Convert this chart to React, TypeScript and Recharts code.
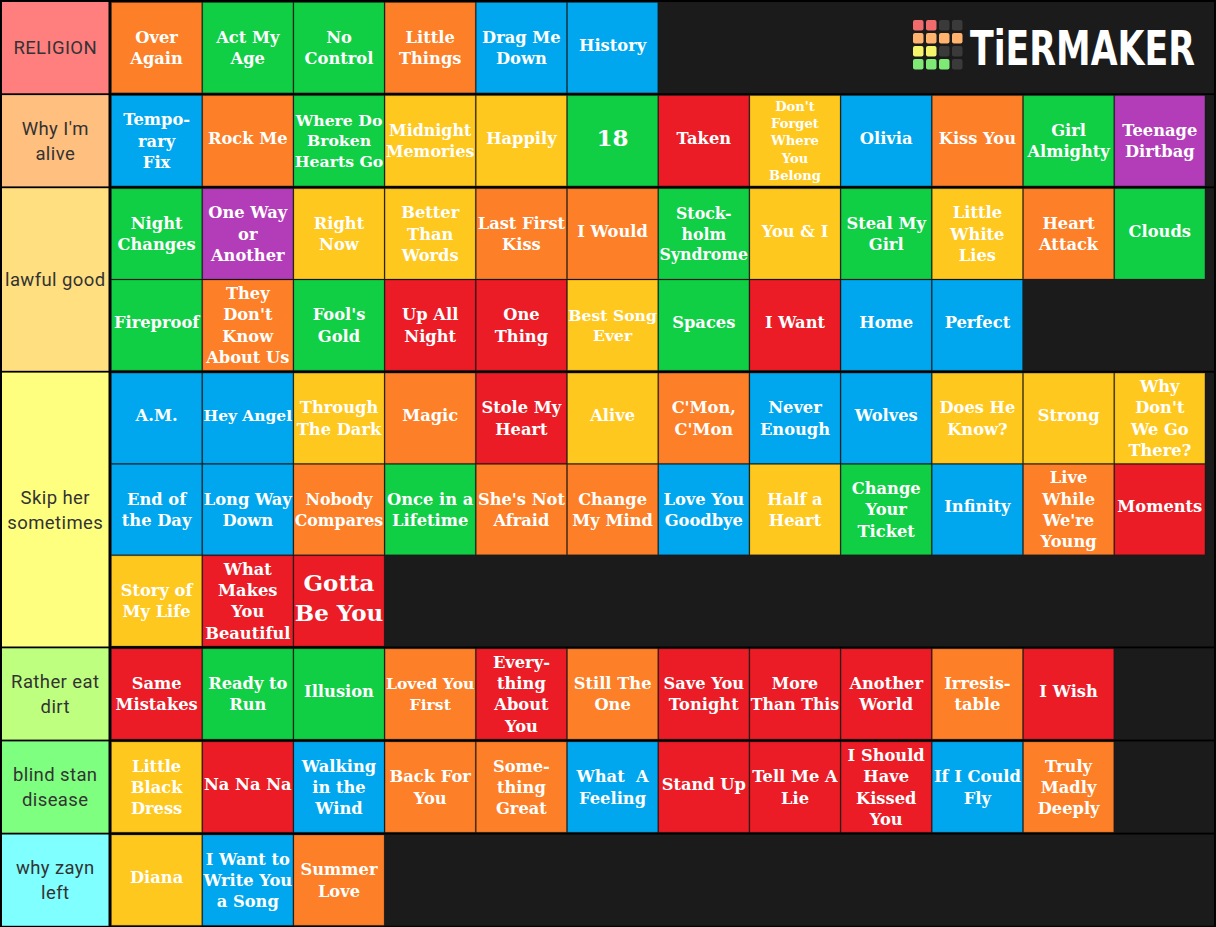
import { ScatterChart, Scatter, XAxis, YAxis } from 'recharts'

const W = 1216
const H = 927
const PX = 91.2 // cell pitch, horizontal
const PY = 91.3 // cell pitch, vertical
const GAP = 1.8 // black line between tiers
const LEFT = 111
const TOP = 2
const PER_ROW = 12
const X0 = -(LEFT + PX / 2) / PX
const X1 = (W - LEFT - PX / 2) / PX
const Y0 = -(TOP + PY / 2) / PY
const Y1 = (H - TOP - PY / 2) / PY

const PALETTE: Record<string, string> = {
  o: '#fd7f27',
  g: '#10cf45',
  b: '#00a7ee',
  y: '#ffc81e',
  r: '#eb1c26',
  p: '#b33db8',
}

const tierNames = ['RELIGION', "Why I'm\nalive", 'lawful good', 'Skip her\nsometimes', 'Rather eat\ndirt', 'blind stan\ndisease', 'why zayn\nleft']
const tierColors = ['#ff7f7f', '#ffbf7f', '#ffdf7f', '#ffff7f', '#bfff7f', '#7fff7f', '#7fffff']

const religion = [
  ['Over\nAgain', 'o'], ['Act My\nAge', 'g'], ['No\nControl', 'g'], ['Little\nThings', 'o'], ['Drag Me\nDown', 'b'], ['History', 'b'],
]
const whyAlive = [
  ['Tempo-\nrary\nFix', 'b'], ['Rock Me', 'o'], ['Where Do\nBroken\nHearts Go', 'g'], ['Midnight\nMemories', 'y'], ['Happily', 'y'], ['18', 'g'],
  ['Taken', 'r'], ["Don't\nForget\nWhere\nYou\nBelong", 'y'], ['Olivia', 'b'], ['Kiss You', 'o'], ['Girl\nAlmighty', 'g'], ['Teenage\nDirtbag', 'p'],
]
const lawfulGood = [
  ['Night\nChanges', 'g'], ['One Way\nor\nAnother', 'p'], ['Right\nNow', 'y'], ['Better\nThan\nWords', 'y'], ['Last First\nKiss', 'o'], ['I Would', 'o'],
  ['Stock-\nholm\nSyndrome', 'g'], ['You & I', 'y'], ['Steal My\nGirl', 'g'], ['Little\nWhite\nLies', 'y'], ['Heart\nAttack', 'o'], ['Clouds', 'g'],
  ['Fireproof', 'g'], ["They\nDon't\nKnow\nAbout Us", 'o'], ["Fool's\nGold", 'g'], ['Up All\nNight', 'r'], ['One\nThing', 'r'], ['Best Song\nEver', 'y'],
  ['Spaces', 'g'], ['I Want', 'r'], ['Home', 'b'], ['Perfect', 'b'],
]
const skipHer = [
  ['A.M.', 'b'], ['Hey Angel', 'b'], ['Through\nThe Dark', 'y'], ['Magic', 'o'], ['Stole My\nHeart', 'r'], ['Alive', 'y'],
  ["C'Mon,\nC'Mon", 'o'], ['Never\nEnough', 'b'], ['Wolves', 'b'], ['Does He\nKnow?', 'y'], ['Strong', 'y'], ["Why\nDon't\nWe Go\nThere?", 'y'],
  ['End of\nthe Day', 'b'], ['Long Way\nDown', 'b'], ['Nobody\nCompares', 'o'], ['Once in a\nLifetime', 'g'], ["She's Not\nAfraid", 'o'], ['Change\nMy Mind', 'o'],
  ['Love You\nGoodbye', 'b'], ['Half a\nHeart', 'y'], ['Change\nYour\nTicket', 'g'], ['Infinity', 'b'], ["Live\nWhile\nWe're\nYoung", 'o'], ['Moments', 'r'],
  ['Story of\nMy Life', 'y'], ['What\nMakes\nYou\nBeautiful', 'r'], ['Gotta\nBe You', 'r'],
]
const ratherEatDirt = [
  ['Same\nMistakes', 'r'], ['Ready to\nRun', 'g'], ['Illusion', 'g'], ['Loved You\nFirst', 'o'], ['Every-\nthing\nAbout\nYou', 'r'], ['Still The\nOne', 'o'],
  ['Save You\nTonight', 'r'], ['More\nThan This', 'r'], ['Another\nWorld', 'r'], ['Irresis-\ntable', 'o'], ['I Wish', 'r'],
]
const blindStan = [
  ['Little\nBlack\nDress', 'y'], ['Na Na Na', 'r'], ['Walking\nin the\nWind', 'b'], ['Back For\nYou', 'o'], ['Some-\nthing\nGreat', 'o'], ['What  A\nFeeling', 'b'],
  ['Stand Up', 'r'], ['Tell Me A\nLie', 'r'], ['I Should\nHave\nKissed\nYou', 'r'], ['If I Could\nFly', 'b'], ['Truly\nMadly\nDeeply', 'o'],
]
const whyZayn = [
  ['Diana', 'y'], ['I Want to\nWrite You\na Song', 'b'], ['Summer\nLove', 'o'],
]

const tiers = [religion, whyAlive, lawfulGood, skipHer, ratherEatDirt, blindStan, whyZayn]

// items drawn with a larger type than the rest
const BIG = new Set(['18', 'Gotta\nBe You'])

const tierData: any[] = []
const itemData: any[] = []
let row = 0
tiers.forEach((items, t) => {
  const rows = Math.max(1, Math.ceil(items.length / PER_ROW))
  const off = (t * GAP) / PY
  tierData.push({ x: 0, y: row + (rows - 1) / 2 + off, rows, name: tierNames[t], color: tierColors[t] })
  items.forEach(([label, c], i) => {
    itemData.push({ x: i % PER_ROW, y: row + Math.floor(i / PER_ROW) + off, label, color: PALETTE[c] })
  })
  row += rows
})

const ITEM_FONT = '"DejaVu Serif", serif'
let ctx: CanvasRenderingContext2D | null = null
function measure(text: string, size: number) {
  if (!ctx) ctx = document.createElement('canvas').getContext('2d')
  if (!ctx) return text.length * size * 0.62
  ctx.font = `bold ${size}px ${ITEM_FONT}`
  return ctx.measureText(text).width
}

function TierShape(props: any) {
  const { cy, payload } = props
  const h = payload.rows * PY
  const top = cy - h / 2
  const lines = payload.name.split('\n')
  const mid = (2 + LEFT - 2.5) / 2
  return (
    <g>
      <rect x={LEFT} y={top} width={W - 2 - LEFT} height={h} fill="#1b1b1b" />
      <rect x={2} y={top} width={LEFT - 4.5} height={h} fill={payload.color} />
      <text textAnchor="middle" fontFamily="Roboto, sans-serif" fontSize={18.5} letterSpacing={0.4} fill="#333">
        {lines.map((l: string, i: number) => (
          <tspan key={i} x={mid} y={cy + (i - (lines.length - 1) / 2) * 25 + 6.5}>{l}</tspan>
        ))}
      </text>
    </g>
  )
}

function ItemShape(props: any) {
  const { cx, cy, payload } = props
  const lines: string[] = payload.label.split('\n')
  const big = BIG.has(payload.label)
  let fs = big ? 23 : 16.3
  const widest = Math.max(...lines.map((l) => measure(l, fs)))
  if (widest > 88.5) fs *= 88.5 / widest
  fs = Math.min(fs, 86 / (lines.length * 1.31))
  const lh = fs * 1.31
  const lift = big || lines.length === 1 ? 3 : 0
  return (
    <g>
      <rect x={cx - PX / 2 + 0.5} y={cy - PY / 2 + 0.5} width={PX - 1} height={PY - 1} fill={payload.color} stroke="rgba(0,0,0,0.18)" />
      <text textAnchor="middle" fontFamily={ITEM_FONT} fontWeight="bold" fontSize={fs} fill="#fff" style={{ whiteSpace: 'pre' }}>
        {lines.map((l, i) => (
          <tspan key={i} x={cx} y={cy + (i - (lines.length - 1) / 2) * lh + fs * 0.36 - lift}>{l}</tspan>
        ))}
      </text>
    </g>
  )
}

const logoCells = [
  ['#f06b6b', '#f06b6b', '#3a3a3a', '#3a3a3a'],
  ['#ffb36f', '#ffb36f', '#ffb36f', '#ffb36f'],
  ['#f5f56c', '#f5f56c', '#3a3a3a', '#3a3a3a'],
  ['#7eea75', '#7eea75', '#7eea75', '#3a3a3a'],
]

function Logo() {
  return (
    <svg width={W} height={H} style={{ position: 'absolute', left: 0, top: 0, pointerEvents: 'none' }}>
      {logoCells.map((r, i) =>
        r.map((c, j) => <rect key={`${i}-${j}`} x={913 + j * 13} y={20 + i * 13} width={10.5} height={10.5} rx={2} fill={c} />),
      )}
      <g transform="translate(970,65) scale(1,1.45)">
        <text x={0} y={0} fontFamily="DejaVu Sans, sans-serif" fontWeight="bold" fontSize={33} fill="#fff" textLength={225} lengthAdjust="spacingAndGlyphs">
          TiERMAKER
        </text>
      </g>
    </svg>
  )
}

export default function App() {
  return (
    <div style={{ position: 'relative', width: W, height: H, background: '#000' }}>
      <style>{'body{margin:0}'}</style>
      <ScatterChart width={W} height={H} margin={{ top: 0, right: 0, bottom: 0, left: 0 }}>
        <XAxis type="number" dataKey="x" domain={[X0, X1]} allowDataOverflow hide />
        <YAxis type="number" dataKey="y" domain={[Y0, Y1]} allowDataOverflow reversed hide />
        <Scatter data={tierData} shape={TierShape} isAnimationActive={false} />
        <Scatter data={itemData} shape={ItemShape} isAnimationActive={false} />
      </ScatterChart>
      <Logo />
    </div>
  )
}
